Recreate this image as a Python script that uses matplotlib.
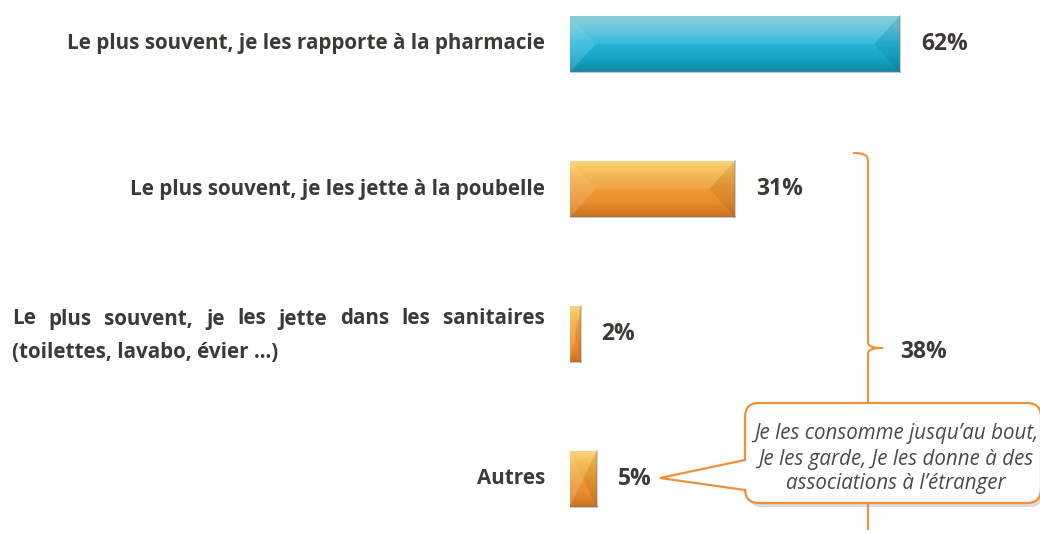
import numpy as np
import matplotlib
matplotlib.use('Agg')
import matplotlib.pyplot as plt
from matplotlib.patches import FancyBboxPatch, Polygon, PathPatch
from matplotlib.path import Path
from matplotlib.colors import LinearSegmentedColormap

plt.rcParams['font.family'] = ['Open Sans', 'DejaVu Sans']

# data
categories = [
    'Le plus souvent, je les rapporte à la pharmacie',
    'Le plus souvent, je les jette à la poubelle',
    'Le plus souvent, je les jette dans les sanitaires\n(toilettes, lavabo, évier ...)',
    'Autres',
]
values = [62, 31, 2, 5]
value_labels = ['62%', '31%', '2%', '5%']
bar_styles = ['blue', 'orange', 'orange', 'orange']
group_total = '38%'
callout_text = "Je les consomme jusqu’au bout,\nJe les garde, Je les donne à des\nassociations à l’étranger"

TEXT = '#3d3a36'
ORANGE = '#f0913a'
GRADIENTS = {
    'blue':   ['#80ccd2', '#5cc2dc', '#26b6d9', '#14a6c8', '#0f88a6'],
    'orange': ['#fbd46e', '#f5b44a', '#f09c36', '#ea8b2c', '#cc7320'],
}
LABEL_FS = 14.9
VALUE_FS = 16.5

W, H = 1040, 534
fig = plt.figure(figsize=(W / 100, H / 100), dpi=100)
fig.patch.set_facecolor('white')

# overlay axes in pixel coordinates (top-left origin) for decorations
deco = fig.add_axes([0, 0, 1, 1], zorder=3)
deco.set_xlim(0, W)
deco.set_ylim(H, 0)
deco.axis('off')
deco.patch.set_alpha(0)

# main bar axes: x=0 at px 570, 5.32 px per %
x0_px, ppp = 570, 5.32
ax = fig.add_axes([x0_px / W, 0, (W - x0_px) / W, 1], zorder=2)
ax.set_xlim(0, (W - x0_px) / ppp)
y_top, pitch = 44, 145
ax.set_ylim((H - y_top) / pitch, -y_top / pitch)
ax.axis('off')
ax.patch.set_alpha(0)

ypos = np.arange(len(values))
bars = ax.barh(ypos, values, height=0.39, color='none', edgecolor='none')

for bar, style in zip(bars, bar_styles):
    x, y, w, h = bar.get_x(), bar.get_y(), bar.get_width(), bar.get_height()
    cmap = LinearSegmentedColormap.from_list(style, GRADIENTS[style])
    grad = np.linspace(0, 1, 100).reshape(-1, 1)
    im = ax.imshow(grad, cmap=cmap, extent=(x, x + w, y + h, y),
                   aspect='auto', origin='upper', zorder=2)
    im.set_clip_path(bar)
    # bevel ends
    d = min(w / 2, 4.8)
    ym = y + h / 2
    ax.add_patch(Polygon([(x, y), (x + d, ym), (x, y + h)], closed=True,
                         facecolor='white', alpha=0.15, edgecolor='none', zorder=3))
    ax.add_patch(Polygon([(x + w, y), (x + w - d, ym), (x + w, y + h)], closed=True,
                         facecolor='black', alpha=0.07, edgecolor='none', zorder=3))
    ax.add_patch(Polygon([(x, y), (x + w, y), (x + w - d, ym), (x + d, ym)], closed=True,
                         facecolor='white', alpha=0.08, edgecolor='none', zorder=3))
    ax.plot([x, x + w], [y + h, y + h], color='#7a7a7a', lw=1.2, alpha=0.5, zorder=3)
    ax.plot([x + w, x + w], [y, y + h], color='#7a7a7a', lw=1.2, alpha=0.4, zorder=3)

renderer = fig.canvas.get_renderer()
label_right, label_left = 545, 12
for i, (cat, v, lab) in enumerate(zip(categories, values, value_labels)):
    cy = y_top + i * pitch
    lines = cat.split('\n')
    if len(lines) == 1:
        deco.text(label_right, cy, cat, ha='right', va='center',
                  fontsize=LABEL_FS, fontweight='bold', color=TEXT)
    else:
        ys = [cy - 15, cy + 19]
        # first line justified across the label block
        words = lines[0].split(' ')
        arts = [deco.text(0, ys[0], wd, ha='left', va='center', fontsize=LABEL_FS,
                          fontweight='bold', color=TEXT) for wd in words]
        inv = deco.transData.inverted()
        widths = []
        for a in arts:
            bb = a.get_window_extent(renderer)
            widths.append(inv.transform((bb.x1, 0))[0] - inv.transform((bb.x0, 0))[0])
        gap = (label_right - label_left - sum(widths)) / (len(words) - 1)
        xx = label_left
        for a, wdt in zip(arts, widths):
            a.set_x(xx)
            xx += wdt + gap
        deco.text(label_left, ys[1], lines[1], ha='left', va='center',
                  fontsize=LABEL_FS, fontweight='bold', color=TEXT)
    ax.annotate(lab, xy=(v, i), xytext=(21, 0), textcoords='offset pixels',
                ha='left', va='center', fontsize=VALUE_FS, fontweight='bold', color=TEXT)

# bracket
verts = [(853, 153), (866, 153), (868, 156), (868, 162),
         (868, 342), (868, 346), (872, 348), (883, 348),
         (872, 348), (868, 350), (868, 354),
         (868, 530)]
codes = [Path.MOVETO, Path.CURVE4, Path.CURVE4, Path.CURVE4,
         Path.LINETO, Path.CURVE4, Path.CURVE4, Path.CURVE4,
         Path.CURVE4, Path.CURVE4, Path.CURVE4,
         Path.LINETO]
deco.add_patch(PathPatch(Path(verts, codes), facecolor='none',
                         edgecolor=ORANGE, lw=1.5, zorder=2))
deco.text(900, 352, group_total, ha='left', va='center', fontsize=VALUE_FS,
          fontweight='bold', color=TEXT)

# callout box
bx0, by0, bw, bh = 745, 403, 296, 100
deco.add_patch(FancyBboxPatch((bx0 + 3, by0 + 4), bw, bh,
                              boxstyle='round,pad=0,rounding_size=14',
                              facecolor='#9a9a9a', edgecolor='none', alpha=0.35, zorder=4))
deco.add_patch(FancyBboxPatch((bx0, by0), bw, bh,
                              boxstyle='round,pad=0,rounding_size=14',
                              facecolor='white', edgecolor=ORANGE, lw=1.6, zorder=5))
deco.add_patch(Polygon([(bx0 + 2, 460), (660, 478), (bx0 + 2, 490)], closed=True,
                       facecolor='white', edgecolor='none', zorder=6))
deco.plot([bx0, 660, bx0], [460, 478, 490], color=ORANGE, lw=1.6, zorder=7,
          solid_joinstyle='miter')
deco.text(896, 459, callout_text, ha='center', va='center', fontsize=14.8,
          style='italic', color='#4a4a4a', linespacing=1.25, zorder=8)

fig.savefig('out.png', dpi=100, facecolor='white')
